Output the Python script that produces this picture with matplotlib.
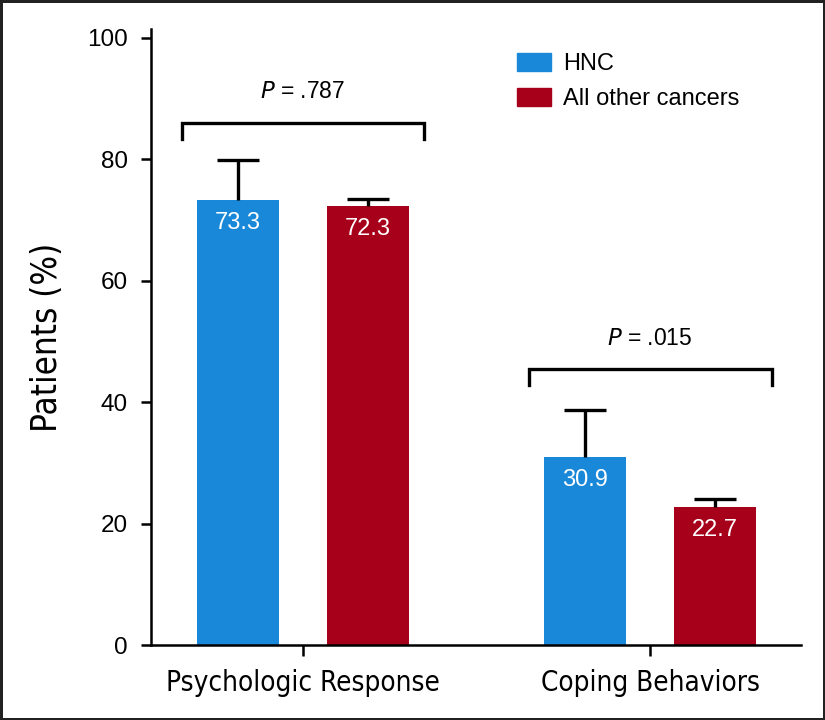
import numpy as np
import matplotlib
matplotlib.use('Agg')
import matplotlib.pyplot as plt
from matplotlib.patches import Patch

# dados
categorias = ['Psychologic Response', 'Coping Behaviors']
hnc = [73.3, 30.9]
outros = [72.3, 22.7]
erro_hnc = [6.6, 7.9]
erro_outros = [1.2, 1.3]
p_valores = ['.787', '.015']
p_altura = [86, 45.4]
serie_nomes = ['HNC', 'All other cancers']

azul = '#1a88d8'
vermelho = '#a6001a'

plt.rcParams['font.family'] = ['Liberation Sans', 'DejaVu Sans']

fig = plt.figure(figsize=(8.25, 7.2), dpi=100, linewidth=2.5, edgecolor='#222222')
ax = fig.add_axes([0.183, 0.104, 0.788, 0.856])

x = np.arange(len(categorias))
larg = 0.236
desl = 0.187

ax.bar(x - desl, hnc, larg, color=azul, label=serie_nomes[0])
ax.bar(x + desl, outros, larg, color=vermelho, label=serie_nomes[1])

# barras de erro só para cima (esconde o cap de baixo)
for pos, vals, errs in [(x - desl, hnc, erro_hnc), (x + desl, outros, erro_outros)]:
    eb = ax.errorbar(pos, vals, yerr=[np.zeros(2), errs], fmt='none',
                     ecolor='black', elinewidth=2.4, capsize=15, capthick=2.4)
    eb[1][0].set_visible(False)

# rótulos dentro das barras
for xi, v in zip(x - desl, hnc):
    ax.text(xi, v - 3.7, f'{v:.1f}', ha='center', va='center', color='white', fontsize=17)
for xi, v in zip(x + desl, outros):
    ax.text(xi, v - 3.7, f'{v:.1f}', ha='center', va='center', color='white', fontsize=17)

# colchetes com valor de P
for xi, h, p in zip(x, p_altura, p_valores):
    ax.plot([xi - 0.35, xi - 0.35, xi + 0.35, xi + 0.35], [h - 2.6, h, h, h - 2.6],
            color='black', lw=2.4, solid_joinstyle='miter')
    ax.text(xi, h + 3.2, f'$\\it{{P}}$ = {p}', ha='center', va='bottom', fontsize=16.5)

ax.set_xlim(-0.438, 1.435)
ax.set_ylim(0, 101.5)
ax.set_yticks([0, 20, 40, 60, 80, 100])
ax.set_xticks(x)
ax.set_xticklabels(categorias, fontsize=20, family='DejaVu Sans', fontstretch='condensed')
ax.tick_params(axis='y', labelsize=17.5, width=1.8, length=7.5, pad=9)
ax.tick_params(axis='x', width=1.8, length=8, pad=9)
ax.set_ylabel('Patients (%)', fontsize=25, family='DejaVu Sans', fontstretch='condensed',
              labelpad=17)

for lado in ['top', 'right']:
    ax.spines[lado].set_visible(False)
for lado in ['left', 'bottom']:
    ax.spines[lado].set_linewidth(1.8)

ax.legend(handles=[Patch(color=azul), Patch(color=vermelho)], labels=serie_nomes,
          loc='upper left', bbox_to_anchor=(0.53, 0.995), frameon=False, fontsize=17,
          handlelength=1.45, handleheight=0.75, handletextpad=0.5, labelspacing=0.55)

fig.savefig('out.png', dpi=100, edgecolor=fig.get_edgecolor())
